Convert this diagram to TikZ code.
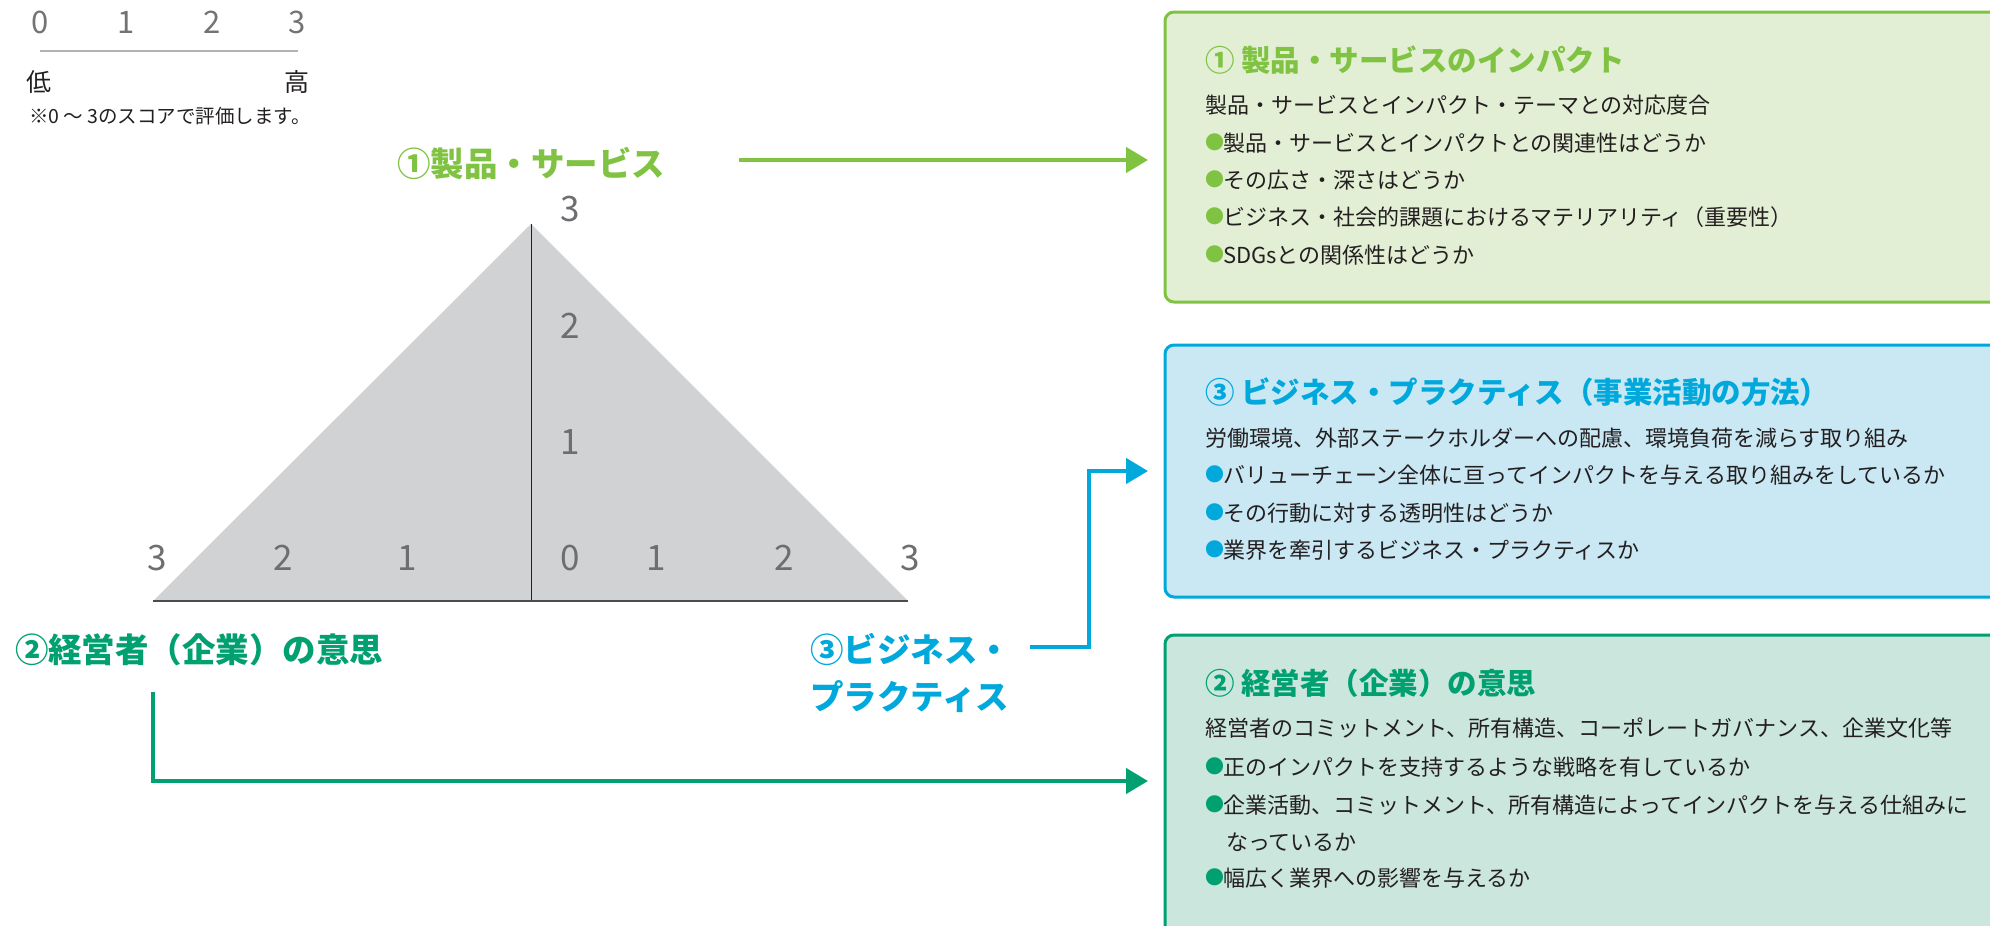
\documentclass[tikz,border=0pt]{standalone}
\usepackage{fontspec}
\setmainfont{Noto Sans CJK JP}
\usetikzlibrary{arrows.meta}
\definecolor{cgreen}{HTML}{80C342}
\definecolor{cgreenbg}{HTML}{E3EFD5}
\definecolor{cblue}{HTML}{00A8DC}
\definecolor{cbluebg}{HTML}{C9E8F4}
\definecolor{cteal}{HTML}{00A070}
\definecolor{ctealbg}{HTML}{CBE6DC}
\definecolor{ctri}{HTML}{D1D2D4}
\definecolor{cdig}{HTML}{6D6E71}
\definecolor{ctext}{HTML}{231F20}
\newcommand\fs[1]{\fontsize{#1}{#1}\selectfont}
\newcommand\bul[1]{\raisebox{1.5pt}{\color{#1}\fs{19}●}\hspace{-1pt}}
\begin{document}
\begin{tikzpicture}[x=1pt,y=-1pt,
  every node/.style={inner sep=0pt,outer sep=0pt,text=ctext},
  scaledig/.style={text=black!55,font=\fs{31}},
  tridig/.style={text=cdig,font=\fs{35}},
  ttl/.style={font=\fs{33.5}\bfseries},
  boxst/.style={draw=#1,line width=3pt,rounded corners=9pt,anchor=north west,minimum width=860pt},
  head/.style={anchor=west,font=\fs{29.5}\bfseries},
  body/.style={anchor=west,font=\fs{22}},
  arr/.style={draw=#1,line width=4.5pt,line join=miter,-{Triangle[length=22pt,width=25pt]},shorten >=17pt}
]
\useasboundingbox (0,0) rectangle (1990,926);
\clip (0,0) rectangle (1990,926);

% scale legend
\node[scaledig] (s0) at (40,22) {0};
\node[scaledig] (s1) at (126,22) {1};
\node[scaledig] (s2) at (212,22) {2};
\node[scaledig] (s3) at (297,22) {3};
\draw[color=black!30,line width=2pt] (40,51) -- (298,51);
\node[font=\fs{25}] (lo) at (39,82) {低};
\node[font=\fs{25}] (hi) at (297,82) {高};
\node[anchor=west,font=\fs{19.5}] (note) at (29,116) {※0 ～ 3のスコアで評価します。};

% triangle
\fill[ctri] (153,601) -- (531,224) -- (908,601) -- cycle;
\draw[color=ctext,line width=1pt] (531,224) -- (531,601);
\draw[color=black!70,line width=2.5pt] (153,601) -- (908,601);
\node[tridig] (v3) at (570,209) {3};
\node[tridig] (v2) at (570,326) {2};
\node[tridig] (v1) at (570,442) {1};
\node[tridig] (l3) at (157,558) {3};
\node[tridig] (l2) at (283,558) {2};
\node[tridig] (l1) at (407,558) {1};
\node[tridig] (c0) at (570,558) {0};
\node[tridig] (r1) at (656,558) {1};
\node[tridig] (r2) at (784,558) {2};
\node[tridig] (r3) at (910,558) {3};

% titles
\node[ttl,text=cgreen] (t1) at (531,163) {①製品・サービス};
\node[ttl,text=cteal,anchor=west] (t2) at (15,650) {②経営者（企業）の意思};
\node[ttl,text=cblue,anchor=west] (t3a) at (810,649) {③ビジネス・};
\node[ttl,text=cblue,anchor=west] (t3b) at (810,697) {プラクティス};

% boxes
\node[boxst=cgreen,fill=cgreenbg,minimum height=290pt] (box1) at (1165,12) {};
\node[boxst=cblue,fill=cbluebg,minimum height=252pt] (box3) at (1165,345) {};
\node[boxst=cteal,fill=ctealbg,minimum height=320pt] (box2) at (1165,635) {};

% box 1 text
\node[head,text=cgreen] (h1) at (1205,60) {① 製品・サービスのインパクト};
\node[body] (b1a) at (1205,105) {製品・サービスとインパクト・テーマとの対応度合};
\node[body] (b1b) at (1205,143) {\bul{cgreen}製品・サービスとインパクトとの関連性はどうか};
\node[body] (b1c) at (1205,180) {\bul{cgreen}その広さ・深さはどうか};
\node[body] (b1d) at (1205,217) {\bul{cgreen}ビジネス・社会的課題におけるマテリアリティ（重要性）};
\node[body] (b1e) at (1205,255) {\bul{cgreen}SDGsとの関係性はどうか};

% box 3 text
\node[head,text=cblue] (h3) at (1205,392) {③ ビジネス・プラクティス（事業活動の方法）};
\node[body] (b3a) at (1205,438) {労働環境、外部ステークホルダーへの配慮、環境負荷を減らす取り組み};
\node[body] (b3b) at (1205,475) {\bul{cblue}バリューチェーン全体に亘ってインパクトを与える取り組みをしているか};
\node[body] (b3c) at (1205,513) {\bul{cblue}その行動に対する透明性はどうか};
\node[body] (b3d) at (1205,550) {\bul{cblue}業界を牽引するビジネス・プラクティスか};

% box 2 text
\node[head,text=cteal] (h2) at (1205,683) {② 経営者（企業）の意思};
\node[body] (b2a) at (1205,728) {経営者のコミットメント、所有構造、コーポレートガバナンス、企業文化等};
\node[body] (b2b) at (1205,767) {\bul{cteal}正のインパクトを支持するような戦略を有しているか};
\node[body] (b2c) at (1205,805) {\bul{cteal}企業活動、コミットメント、所有構造によってインパクトを与える仕組みに};
\node[body] (b2d) at (1226,842) {なっているか};
\node[body] (b2e) at (1205,878) {\bul{cteal}幅広く業界への影響を与えるか};

% connectors
\coordinate (a1) at (739,160);
\draw[arr=cgreen] (a1) -- (a1 -| box1.west);
\coordinate (a3) at (1030,647);
\draw[arr=cblue] (a3) -| ([xshift=-76pt]box3.west) -- (box3.west);
\coordinate (a2) at (153,692);
\coordinate (a2c) at (153,781);
\draw[arr=cteal] (a2) -- (a2c) -- (a2c -| box2.west);
\end{tikzpicture}
\end{document}
